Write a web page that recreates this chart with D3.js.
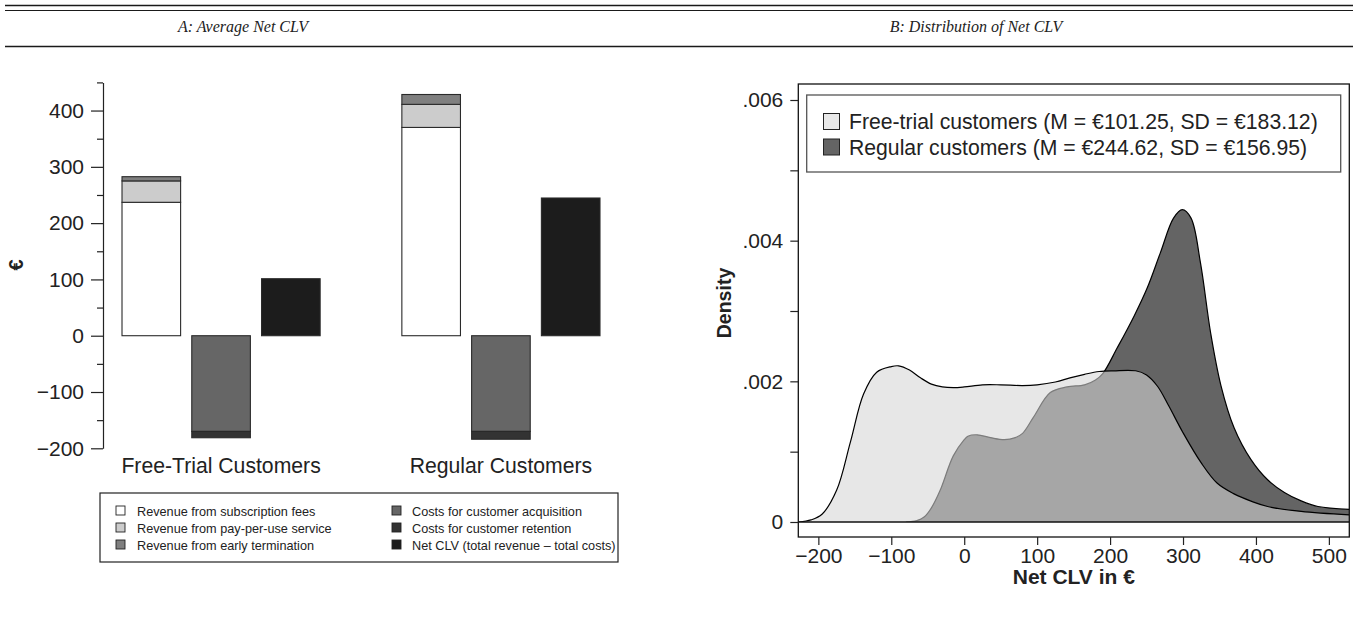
<!DOCTYPE html>
<html>
<head>
<meta charset="utf-8">
<script src="https://cdn.jsdelivr.net/npm/d3@7"></script>
<style>
  body { margin: 0; background: #fff; }
  svg { display: block; }
</style>
</head>
<body>
<svg id="chart" width="1353" height="639"></svg>
<script>
// ---------- Panel A: average net CLV components (EUR) ----------
const customerGroups = ["Free-Trial Customers", "Regular Customers"];
const revenueSubscription = [237, 370];
const revenuePayPerUse = [38, 41];
const revenueEarlyTermination = [7.5, 17.5];
const costsAcquisition = [170, 170];
const costsRetention = [11.25, 13.88];
const netCLV = [101.25, 244.62];
const barTicks = [-200, -100, 0, 100, 200, 300, 400];
const barMinorTicks = [-150, -50, 50, 150, 250, 350, 450];

const componentLabels = [
  "Revenue from subscription fees",
  "Revenue from pay-per-use service",
  "Revenue from early termination",
  "Costs for customer acquisition",
  "Costs for customer retention",
  "Net CLV (total revenue \u2013 total costs)"
];
const componentColors = ["#ffffff", "#cccccc", "#7f7f7f", "#666666", "#333333", "#1c1c1c"];

// ---------- Panel B: kernel densities of net CLV ----------
const freeTrialX = [-227, -210, -195, -175, -156, -138, -120, -100, -90, -75, -60, -45, -30, -15, 0,
  25, 50, 80, 100, 125, 145, 165, 185, 205, 235, 250, 265, 280, 300, 325, 347, 370, 395, 416, 462, 528];
const freeTrialDensity = [0, 0.00003, 0.00011, 0.00045, 0.00114, 0.00182, 0.00213, 0.00221, 0.00222,
  0.00216, 0.00205, 0.00196, 0.00192, 0.00191, 0.00192, 0.00195, 0.00195, 0.00194, 0.00195, 0.00199,
  0.00205, 0.0021, 0.00214, 0.00215, 0.00215, 0.00209, 0.00193, 0.00166, 0.00127, 0.00084, 0.00055,
  0.0004, 0.00029, 0.00022, 0.00015, 0.0001];
const regularX = [-80, -65, -55, -45, -33, -15, 0, 5, 18, 36, 55, 70, 80, 95, 118, 141, 165, 180, 190,
  210, 233, 251, 269, 287, 299, 311, 324, 338, 352, 370, 393, 416, 439, 462, 485, 528];
const regularDensity = [0, 0.00002, 0.00007, 0.0002, 0.00045, 0.00094, 0.00117, 0.00122, 0.00124,
  0.0012, 0.00117, 0.0012, 0.00126, 0.00149, 0.00184, 0.00192, 0.00195, 0.00202, 0.00211, 0.00248,
  0.00293, 0.00333, 0.00383, 0.00432, 0.00444, 0.00432, 0.00368, 0.00268, 0.00194, 0.00134, 0.00089,
  0.0006, 0.00042, 0.0003, 0.00022, 0.00018];
const densityTicks = [0, 0.002, 0.004, 0.006];
const densityMinorTicks = [0.001, 0.003, 0.005];
const clvTicks = [-200, -100, 0, 100, 200, 300, 400, 500];
const densityLegend = [
  "Free-trial customers (M = \u20ac101.25, SD = \u20ac183.12)",
  "Regular customers (M = \u20ac244.62, SD = \u20ac156.95)"
];

// ---------- shared setup ----------
const sans = "'Liberation Sans', Arial, Helvetica, sans-serif";
const serif = "'Liberation Serif', 'Times New Roman', serif";
const svg = d3.select("#chart");

// header rules and panel titles
const rules = svg.append("g").attr("stroke", "#1a1a1a");
rules.append("line").attr("x1", 5).attr("x2", 1353).attr("y1", 5.5).attr("y2", 5.5).attr("stroke-width", 1.6);
rules.append("line").attr("x1", 5).attr("x2", 1353).attr("y1", 10.5).attr("y2", 10.5).attr("stroke-width", 1.1);
rules.append("line").attr("x1", 5).attr("x2", 1353).attr("y1", 46.5).attr("y2", 46.5).attr("stroke-width", 1.6);

svg.append("text").attr("x", 243).attr("y", 32).attr("text-anchor", "middle")
  .attr("font-family", serif).attr("font-style", "italic").attr("font-size", 16).attr("fill", "#222")
  .text("A: Average Net CLV");
svg.append("text").attr("x", 976).attr("y", 32).attr("text-anchor", "middle")
  .attr("font-family", serif).attr("font-style", "italic").attr("font-size", 16).attr("fill", "#222")
  .text("B: Distribution of Net CLV");

// ================= Panel A =================
const yA = d3.scaleLinear().domain([-200, 450]).range([448.3, 82.4]);
const xGroup = d3.scaleBand().domain(customerGroups).range([81.15, 640.85])
  .paddingInner(0.292).paddingOuter(0.146);
const xKind = d3.scaleBand().domain(["revenue", "costs", "net"])
  .range([0, xGroup.bandwidth()]).paddingInner(0.16);

const gA = svg.append("g");

// axis: major ticks with labels, minor ticks without
const axisMajor = d3.axisLeft(yA).tickValues(barTicks).tickSize(12).tickSizeOuter(0).tickPadding(7)
  .tickFormat(d3.format("d"));
const axisMinor = d3.axisLeft(yA).tickValues(barMinorTicks).tickSize(6).tickSizeOuter(0).tickFormat("");
const axA = gA.append("g").attr("transform", "translate(103,0)").call(axisMajor);
gA.append("g").attr("transform", "translate(103,0)").call(axisMinor).select(".domain").remove();
axA.selectAll("text").attr("font-family", sans).attr("font-size", 21).attr("fill", "#222");
gA.selectAll(".tick line, .domain").attr("stroke", "#222").attr("stroke-width", 1.2);

gA.append("text").attr("transform", "translate(23,265) rotate(-90)").attr("text-anchor", "middle")
  .attr("font-family", sans).attr("font-weight", "bold").attr("font-size", 20).attr("fill", "#222")
  .text("\u20ac");

// stacked revenue and costs
const rows = customerGroups.map((g, i) => ({
  group: g,
  subscription: revenueSubscription[i],
  payPerUse: revenuePayPerUse[i],
  earlyTermination: revenueEarlyTermination[i],
  acquisition: -costsAcquisition[i],
  retention: -costsRetention[i]
}));
const revenueKeys = ["subscription", "payPerUse", "earlyTermination"];
const costKeys = ["acquisition", "retention"];
const revenueStack = d3.stack().keys(revenueKeys)(rows);
const costStack = d3.stack().keys(costKeys).offset(d3.stackOffsetDiverging)(rows);

const barStroke = "#2a2a2a";
revenueStack.forEach((layer, li) => {
  gA.selectAll(null).data(layer).join("rect")
    .attr("x", d => xGroup(d.data.group) + xKind("revenue"))
    .attr("width", xKind.bandwidth())
    .attr("y", d => yA(d[1]))
    .attr("height", d => yA(d[0]) - yA(d[1]))
    .attr("fill", componentColors[li])
    .attr("stroke", barStroke).attr("stroke-width", 1.1);
});
costStack.forEach((layer, li) => {
  gA.selectAll(null).data(layer).join("rect")
    .attr("x", d => xGroup(d.data.group) + xKind("costs"))
    .attr("width", xKind.bandwidth())
    .attr("y", d => yA(Math.max(d[0], d[1])))
    .attr("height", d => Math.abs(yA(d[0]) - yA(d[1])))
    .attr("fill", componentColors[3 + li])
    .attr("stroke", barStroke).attr("stroke-width", 1.1);
});
gA.selectAll(null).data(customerGroups).join("rect")
  .attr("x", g => xGroup(g) + xKind("net"))
  .attr("width", xKind.bandwidth())
  .attr("y", (g, i) => yA(netCLV[i]))
  .attr("height", (g, i) => yA(0) - yA(netCLV[i]))
  .attr("fill", componentColors[5])
  .attr("stroke", barStroke).attr("stroke-width", 1.1);

// group labels
gA.selectAll(null).data(customerGroups).join("text")
  .attr("x", g => xGroup(g) + xGroup.bandwidth() / 2)
  .attr("y", 473)
  .attr("text-anchor", "middle")
  .attr("font-family", sans).attr("font-size", 21.2).attr("fill", "#222")
  .text(g => g);

// legend of components
const legA = gA.append("g").attr("stroke", "#222").attr("stroke-width", 1.2);
legA.append("rect").attr("x", 100).attr("y", 493).attr("width", 518).attr("height", 69).attr("fill", "none");
const legItems = gA.append("g").selectAll(null).data(componentLabels).join("g")
  .attr("transform", (d, i) => `translate(${i < 3 ? 116 : 392},${511 + (i % 3) * 17})`);
legItems.append("rect").attr("x", 0).attr("y", -5).attr("width", 9).attr("height", 9)
  .attr("fill", (d, i) => componentColors[i]).attr("stroke", "#222").attr("stroke-width", 0.9);
legItems.append("text").attr("x", (d, i) => i < 3 ? 21 : 20).attr("y", 4.5)
  .attr("font-family", sans).attr("font-size", 12.7).attr("fill", "#222").text(d => d);

// ================= Panel B =================
const plotB = { left: 798.3, right: 1349.3, top: 84, bottom: 537 };
const xB = d3.scaleLinear().domain([-227.5, 528]).range([plotB.left, plotB.right]);
const yB = d3.scaleLinear().domain([0, 0.006]).range([522, 100]);

const gB = svg.append("g");
gB.append("clipPath").attr("id", "plotClip").append("rect")
  .attr("x", plotB.left).attr("y", plotB.top)
  .attr("width", plotB.right - plotB.left).attr("height", yB(0) - plotB.top);

// smooth density outlines, kept non-negative by clipping at the zero line
const plotArea = gB.append("g").attr("clip-path", "url(#plotClip)");
const curve = d3.curveCatmullRom.alpha(0.5);
const area = d3.area().x(d => xB(d[0])).y0(yB(0)).y1(d => yB(d[1])).curve(curve);
const line = d3.line().x(d => xB(d[0])).y(d => yB(d[1])).curve(curve);
const regularPts = regularX.map((x, i) => [x, regularDensity[i]]);
const freePts = freeTrialX.map((x, i) => [x, freeTrialDensity[i]]);

plotArea.append("path").attr("d", area(regularPts)).attr("fill", "#646464");
plotArea.append("path").attr("d", line(regularPts)).attr("fill", "none").attr("stroke", "#000").attr("stroke-width", 1.2);
plotArea.append("path").attr("d", area(freePts)).attr("fill", "rgb(214,214,214)").attr("fill-opacity", 0.58);
plotArea.append("path").attr("d", line(freePts)).attr("fill", "none").attr("stroke", "#000").attr("stroke-width", 1.2);
gB.append("line").attr("x1", plotB.left).attr("x2", plotB.right)
  .attr("y1", yB(0)).attr("y2", yB(0)).attr("stroke", "#111").attr("stroke-width", 1.4);

gB.append("rect").attr("x", plotB.left).attr("y", plotB.top)
  .attr("width", plotB.right - plotB.left).attr("height", plotB.bottom - plotB.top)
  .attr("fill", "none").attr("stroke", "#111").attr("stroke-width", 1.3);

const fmtDensity = d => d === 0 ? "0" : d3.format(".3f")(d).replace(/^0/, "");
const axYB = gB.append("g").attr("transform", `translate(${plotB.left},0)`)
  .call(d3.axisLeft(yB).tickValues(densityTicks).tickSize(8).tickSizeOuter(0).tickPadding(7).tickFormat(fmtDensity));
gB.append("g").attr("transform", `translate(${plotB.left},0)`)
  .call(d3.axisLeft(yB).tickValues(densityMinorTicks).tickSize(8).tickSizeOuter(0).tickFormat(""))
  .select(".domain").remove();
axYB.select(".domain").remove();
const axXB = gB.append("g").attr("transform", `translate(0,${plotB.bottom})`)
  .call(d3.axisBottom(xB).tickValues(clvTicks).tickSize(8).tickSizeOuter(0).tickPadding(3).tickFormat(d3.format("d")));
axXB.select(".domain").remove();
gB.selectAll(".tick line").attr("stroke", "#222").attr("stroke-width", 1.2);
gB.selectAll(".tick text").attr("font-family", sans).attr("font-size", 21).attr("fill", "#222");

gB.append("text").attr("transform", "translate(731,303) rotate(-90)").attr("text-anchor", "middle")
  .attr("font-family", sans).attr("font-weight", "bold").attr("font-size", 19.5).attr("fill", "#222")
  .text("Density");
gB.append("text").attr("x", (plotB.left + plotB.right) / 2).attr("y", 584).attr("text-anchor", "middle")
  .attr("font-family", sans).attr("font-weight", "bold").attr("font-size", 21).attr("fill", "#222")
  .text("Net CLV in \u20ac");

// density legend
const legB = gB.append("g");
legB.append("rect").attr("x", 806.7).attr("y", 95).attr("width", 534).attr("height", 77)
  .attr("fill", "#fff").attr("stroke", "#555").attr("stroke-width", 1.3);
const legBItems = legB.selectAll(null).data(densityLegend).join("g")
  .attr("transform", (d, i) => `translate(823.5,${121.5 + i * 25.5})`);
legBItems.append("rect").attr("x", 0).attr("y", -8).attr("width", 16).attr("height", 16)
  .attr("fill", (d, i) => i === 0 ? "#e8e8e8" : "#646464").attr("stroke", "#222").attr("stroke-width", 1);
legBItems.append("text").attr("x", 25.5).attr("y", 7.5)
  .attr("font-family", sans).attr("font-size", 21.2).attr("fill", "#222").text(d => d);
</script>
</body>
</html>
